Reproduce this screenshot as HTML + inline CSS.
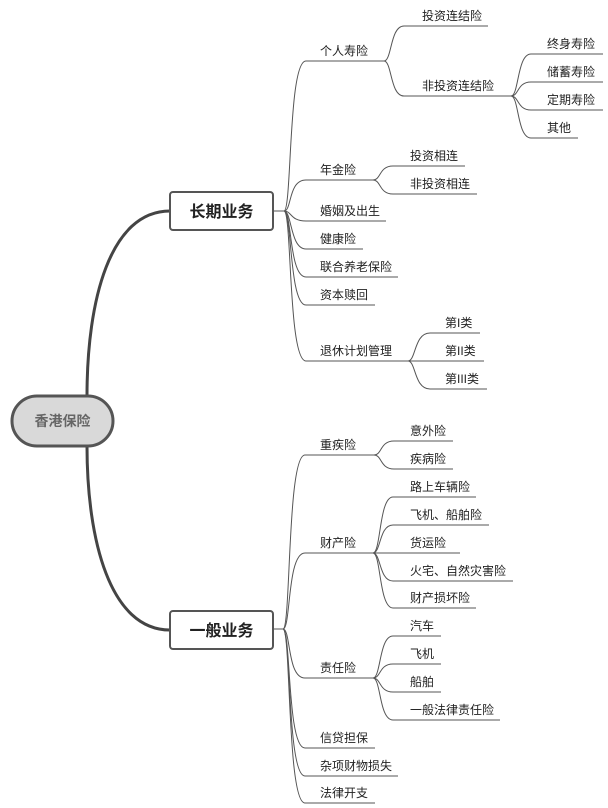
<!DOCTYPE html>
<html><head><meta charset="utf-8"><style>
html,body{margin:0;padding:0;background:#fff;}
svg{display:block;}
text{font-family:"Liberation Sans","Noto Sans CJK SC",sans-serif;font-size:12px;fill:#222;}
</style></head><body>
<svg width="608" height="808" viewBox="0 0 608 808" xmlns="http://www.w3.org/2000/svg">
<g fill="none" stroke="#444" stroke-width="3">
<path d="M87,396 C87,300 110,211 170,211"/>
<path d="M87,446 C87,540 110,630 170,630"/>
</g>
<g fill="none" stroke="#555" stroke-width="1">
<path d="M273,211 L284,211"/>
<path d="M273,629 L283,629"/>
<!-- long-term level1 -->
<path d="M284,211 C292,211 288,61 306,61 L384,61"/>
<path d="M284,211 C292,211 288,180 306,180 L373,180"/>
<path d="M284,211 C292,211 290,221 306,221 L386,221"/>
<path d="M284,211 C292,211 290,249 306,249 L363,249"/>
<path d="M284,211 C292,211 289,277 306,277 L398,277"/>
<path d="M284,211 C292,211 289,305 306,305 L375,305"/>
<path d="M284,211 C292,211 288,361 306,361 L408,361"/>
<!-- 个人寿险 subs -->
<path d="M384,61 C392,61 390,26 404,26 L488,26"/>
<path d="M384,61 C392,61 390,96 404,96 L511,96"/>
<!-- 非投资 subs -->
<path d="M511,96 C519,96 517,54 531,54 L603,54"/>
<path d="M511,96 C519,96 517,82 531,82 L603,82"/>
<path d="M511,96 C519,96 517,110 531,110 L603,110"/>
<path d="M511,96 C519,96 517,138 531,138 L578,138"/>
<!-- 年金 subs -->
<path d="M373,180 C381,180 379,166 393,166 L465,166"/>
<path d="M373,180 C381,180 379,194 393,194 L477,194"/>
<!-- 退休 subs -->
<path d="M408,361 C416,361 414,333 430,333 L480,333"/>
<path d="M408,361 L484,361"/>
<path d="M408,361 C416,361 414,389 430,389 L487,389"/>
<!-- general level1 -->
<path d="M283,629 C291,629 287,455 305,455 L374,455"/>
<path d="M283,629 C291,629 287,553 305,553 L373,553"/>
<path d="M283,629 C291,629 287,678 305,678 L373,678"/>
<path d="M283,629 C291,629 287,748 305,748 L375,748"/>
<path d="M283,629 C291,629 287,776 305,776 L398,776"/>
<path d="M283,629 C291,629 287,803 305,803 L375,803"/>
<!-- 重疾 subs -->
<path d="M374,455 C382,455 380,441 394,441 L453,441"/>
<path d="M374,455 C382,455 380,469 394,469 L453,469"/>
<!-- 财产 subs -->
<path d="M373,553 C381,553 379,497 393,497 L476,497"/>
<path d="M373,553 C381,553 379,525 393,525 L489,525"/>
<path d="M373,553 L460,553"/>
<path d="M373,553 C381,553 379,581 393,581 L513,581"/>
<path d="M373,553 C381,553 379,608 393,608 L476,608"/>
<!-- 责任 subs -->
<path d="M373,678 C381,678 379,636 393,636 L441,636"/>
<path d="M373,678 C381,678 379,664 393,664 L441,664"/>
<path d="M373,678 C381,678 379,692 393,692 L441,692"/>
<path d="M373,678 C381,678 379,720 393,720 L500,720"/>
</g>
<!-- nodes -->
<rect x="12" y="396" width="101" height="50" rx="25" fill="#d9d9d9" stroke="#555" stroke-width="3"/>
<text x="62.5" y="426" text-anchor="middle" style="font-size:14px;font-weight:bold;fill:#666">香港保险</text>
<rect x="170" y="192" width="103" height="38" rx="3" fill="#fff" stroke="#555" stroke-width="2"/>
<text x="221.5" y="217" text-anchor="middle" style="font-size:16px;font-weight:bold;fill:#222">长期业务</text>
<rect x="170" y="611" width="103" height="38" rx="3" fill="#fff" stroke="#555" stroke-width="2"/>
<text x="221.5" y="636" text-anchor="middle" style="font-size:16px;font-weight:bold;fill:#222">一般业务</text>
<!-- labels -->
<text x="320" y="55">个人寿险</text>
<text x="422" y="20">投资连结险</text>
<text x="422" y="90">非投资连结险</text>
<text x="547" y="48">终身寿险</text>
<text x="547" y="76">储蓄寿险</text>
<text x="547" y="104">定期寿险</text>
<text x="547" y="132">其他</text>
<text x="320" y="174">年金险</text>
<text x="410" y="160">投资相连</text>
<text x="410" y="188">非投资相连</text>
<text x="320" y="215">婚姻及出生</text>
<text x="320" y="243">健康险</text>
<text x="320" y="271">联合养老保险</text>
<text x="320" y="299">资本赎回</text>
<text x="320" y="355">退休计划管理</text>
<text x="445" y="327">第I类</text>
<text x="445" y="355">第II类</text>
<text x="445" y="383">第III类</text>
<text x="320" y="449">重疾险</text>
<text x="410" y="435">意外险</text>
<text x="410" y="463">疾病险</text>
<text x="320" y="547">财产险</text>
<text x="410" y="491">路上车辆险</text>
<text x="410" y="519">飞机、船舶险</text>
<text x="410" y="547">货运险</text>
<text x="410" y="575">火宅、自然灾害险</text>
<text x="410" y="602">财产损坏险</text>
<text x="320" y="672">责任险</text>
<text x="410" y="630">汽车</text>
<text x="410" y="658">飞机</text>
<text x="410" y="686">船舶</text>
<text x="410" y="714">一般法律责任险</text>
<text x="320" y="742">信贷担保</text>
<text x="320" y="770">杂项财物损失</text>
<text x="320" y="797">法律开支</text>
</svg>
</body></html>
